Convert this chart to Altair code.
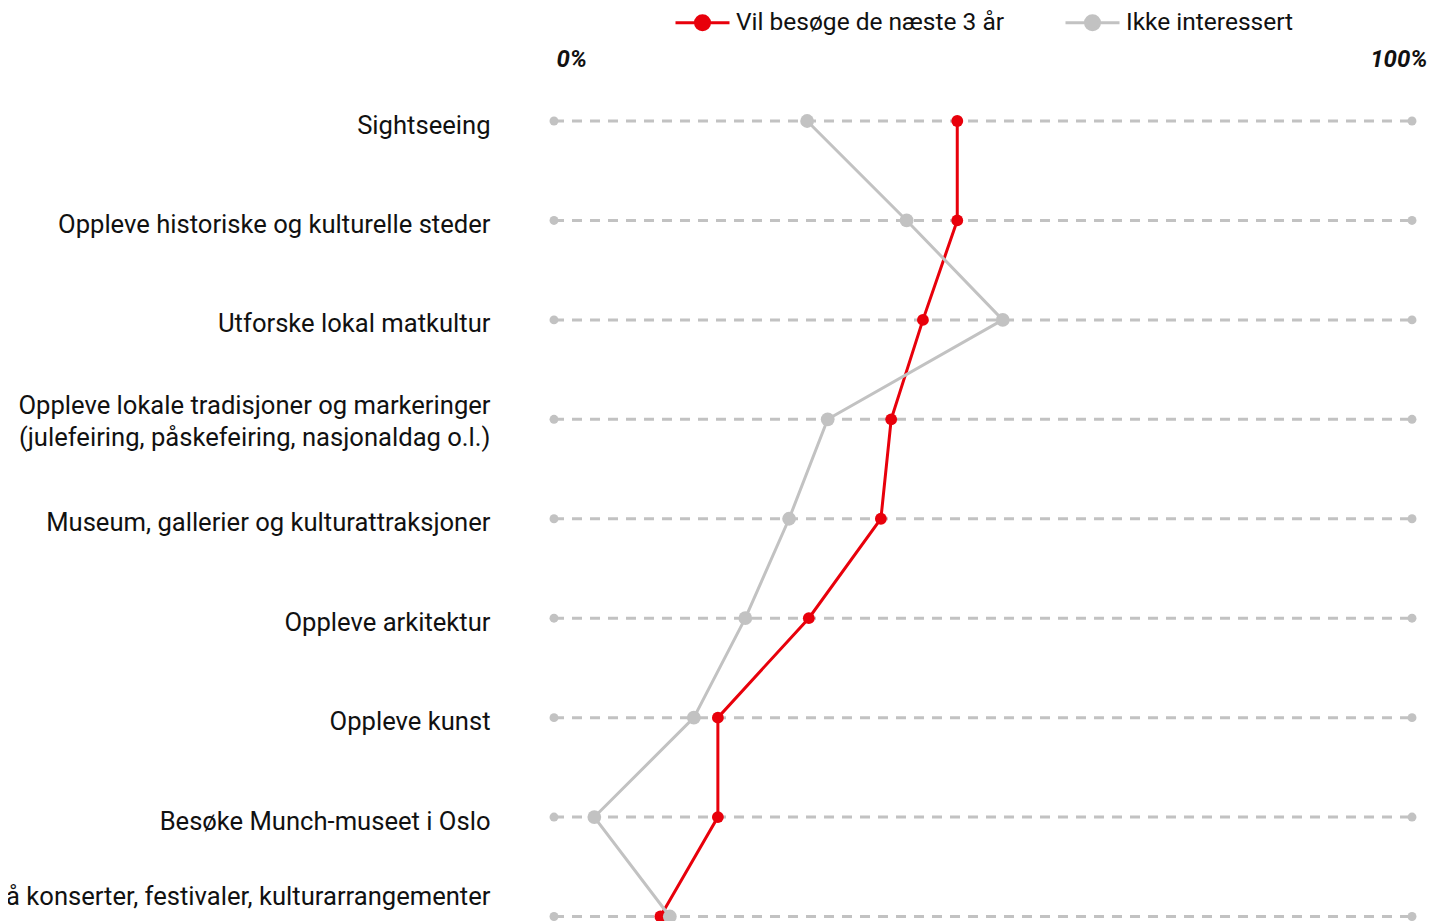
import altair as alt
import pandas as pd

categories = [
    "Sightseeing",
    "Oppleve historiske og kulturelle steder",
    "Utforske lokal matkultur",
    "Oppleve lokale tradisjoner og markeringer\n(julefeiring, påskefeiring, nasjonaldag o.l.)",
    "Museum, gallerier og kulturattraksjoner",
    "Oppleve arkitektur",
    "Oppleve kunst",
    "Besøke Munch-museet i Oslo",
    "Gå på konserter, festivaler, kulturarrangementer",
]
series_names = ["Vil besøge de næste 3 år", "Ikke interessert"]
visit = [47, 47, 43, 39.3, 38.1, 29.7, 19.1, 19.1, 12.4]
not_interested = [29.5, 41.1, 52.3, 31.9, 27.4, 22.3, 16.3, 4.7, 13.5]
axis_values = [0, 100]

RED = "#e8000b"
GREY = "#c2c2c2"
FONT = "Roboto"

rows = []
for i, c in enumerate(categories):
    rows.append({"category": c, "order": i, "series": series_names[0], "value": visit[i]})
    rows.append({"category": c, "order": i, "series": series_names[1], "value": not_interested[i]})
df = pd.DataFrame(rows)

grid = pd.DataFrame({"category": categories, "start": axis_values[0], "end": axis_values[1]})
ends = pd.DataFrame([{"category": c, "value": v} for c in categories for v in axis_values])

last_cat = categories[-1]

y_scale = alt.Scale(type="point", padding=0, range=[50, 845.5], domain=categories)
x_scale = alt.Scale(domain=[0, 100], nice=False)

y_axis = alt.Axis(
    title=None, domain=False, ticks=False, grid=False,
    labelPadding=64, labelFontSize=25.6, labelLimit=0, labelLineHeight=32,
    labelColor="#111111", labelFont=FONT,
    labelExpr="split(datum.label, '\\n')",
    labelOffset={"expr": "datum.value == '" + last_cat + "' ? -20 : (indexof(datum.value, '\\n') >= 0 ? -14 : 4)"},
)
x_axis = alt.Axis(
    orient="top", values=axis_values, title=None, domain=False, ticks=False, grid=False,
    labelExpr="datum.value + '%'", labelFontStyle="italic", labelFontWeight="bold",
    labelFontSize=24, labelColor="#111111", labelFont=FONT, labelPadding=0,
    labelAlign={"expr": "datum.value == 0 ? 'left' : 'right'"},
    labelOffset={"expr": "datum.value == 100 ? 15 : 2"},
)

legend = alt.Legend(
    title=None, orient="none", legendX=120, legendY=-77, direction="horizontal",
    symbolType="M-1,0H1M-0.26,0A0.26,0.26,0,1,1,0.26,0A0.26,0.26,0,1,1,-0.26,0Z",
    symbolSize=2916, symbolStrokeWidth=3, labelFontSize=24.5, labelFont=FONT,
    labelColor="#111111", columnPadding=54, padding=0, labelOffset=5, labelLimit=0,
)
color = alt.Color("series:N", scale=alt.Scale(domain=series_names, range=[RED, GREY]), legend=legend)

gridlines = alt.Chart(grid).mark_rule(color=GREY, strokeWidth=3, strokeDash=[10, 8]).encode(
    y=alt.Y("category:N", scale=y_scale, axis=y_axis, sort=categories),
    x=alt.X("start:Q", scale=x_scale, axis=x_axis),
    x2="end:Q",
)
end_dots = alt.Chart(ends).mark_circle(color=GREY, size=80, opacity=1).encode(
    y=alt.Y("category:N", scale=y_scale, sort=categories),
    x=alt.X("value:Q", scale=x_scale),
)
lines = alt.Chart(df).mark_line(strokeWidth=3).encode(
    y=alt.Y("category:N", scale=y_scale, sort=categories),
    x=alt.X("value:Q", scale=x_scale),
    color=color,
    order="order:Q",
)
red_points = alt.Chart(df).transform_filter(
    alt.datum.series == series_names[0]
).mark_circle(opacity=1, size=140).encode(
    y=alt.Y("category:N", scale=y_scale, sort=categories),
    x=alt.X("value:Q", scale=x_scale),
    color=color,
)
grey_points = alt.Chart(df).transform_filter(
    alt.datum.series == series_names[1]
).mark_circle(opacity=1, size=190).encode(
    y=alt.Y("category:N", scale=y_scale, sort=categories),
    x=alt.X("value:Q", scale=x_scale),
    color=color,
)

chart = alt.layer(gridlines, end_dots, lines, red_points, grey_points).properties(
    width=858, height=850,
    autosize=alt.AutoSizeParams(type="none"),
    padding={"left": 546, "top": 63, "right": 18, "bottom": 0},
).configure(font=FONT).configure_view(stroke="transparent", strokeWidth=0)

chart.save("out.html", embed_options={"renderer": "svg", "actions": False})
